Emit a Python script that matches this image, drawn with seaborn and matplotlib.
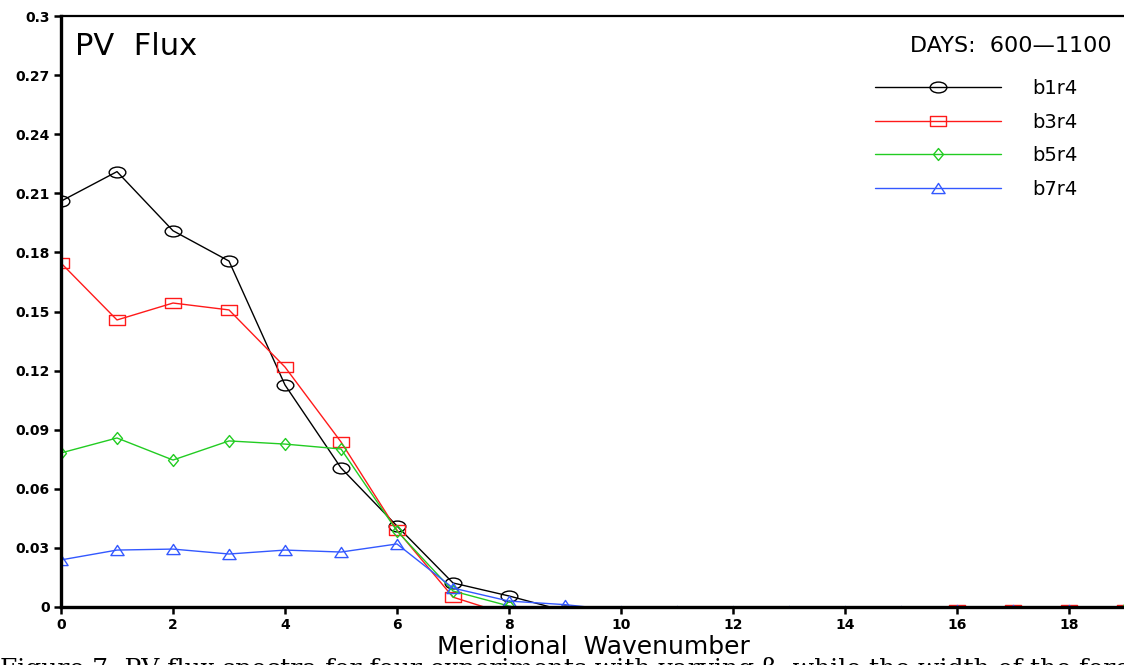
import matplotlib
matplotlib.use("Agg")
import numpy as np
import pandas as pd
import matplotlib.pyplot as plt
from matplotlib.path import Path
import seaborn as sns

# ---- data -------------------------------------------------------------
wavenumber = list(range(20))

b1r4 = [0.206, 0.221, 0.191, 0.1756, 0.1127, 0.0706, 0.0411, 0.0122, 0.0056,
        -0.002, -0.004, -0.004, -0.004, -0.004, -0.004, -0.004, -0.004,
        -0.004, -0.004, -0.004]
b3r4 = [0.1746, 0.1457, 0.1543, 0.1508, 0.1218, 0.0838, 0.0390, 0.0050,
        -0.004, -0.004, -0.004, -0.004, -0.004, -0.004, -0.004, -0.004,
        -0.0013, -0.0013, -0.0013, -0.0013]
b5r4 = [0.0782, 0.0858, 0.0746, 0.0843, 0.0827, 0.0802, 0.0386, 0.0081,
        0.0005, -0.004, -0.004, -0.004, -0.004, -0.004, -0.004, -0.004,
        -0.004, -0.004, -0.004, -0.001]
b7r4 = [0.0239, 0.0289, 0.0294, 0.0269, 0.0289, 0.0279, 0.0320, 0.0096,
        0.0030, 0.0012, -0.0018, -0.0018, -0.0018, -0.0018, -0.0018, -0.0018,
        -0.0015, -0.0015, -0.0015, -0.004]

series_names = ["b1r4", "b3r4", "b5r4", "b7r4"]
series_values = [b1r4, b3r4, b5r4, b7r4]
series_colors = ["#000000", "#ff1a1a", "#22cc22", "#3358ff"]

y_ticks = [0, 0.03, 0.06, 0.09, 0.12, 0.15, 0.18, 0.21, 0.24, 0.27, 0.3]
y_tick_labels = ["0", "0.03", "0.06", "0.09", "0.12", "0.15", "0.18",
                 "0.21", "0.24", "0.27", "0.3"]
x_ticks = [0, 2, 4, 6, 8, 10, 12, 14, 16, 18]

title_text = "PV  Flux"
period_text = "DAYS:  600\u20141100"
x_label = "Meridional  Wavenumber"
caption = ("Figure 7: PV flux spectra for four experiments with varying \u03b2, "
           "while the width of the forcing is held")

# ---- hollow, horizontally stretched markers ---------------------------
def closed(verts):
    codes = [Path.MOVETO] + [Path.LINETO] * (len(verts) - 2) + [Path.CLOSEPOLY]
    return Path(verts, codes)

circ = Path.unit_circle()
ellipse = Path(circ.vertices * np.array([1.0, 0.65]), circ.codes)
rect = closed([(-1, -0.65), (1, -0.65), (1, 0.65), (-1, 0.65), (-1, -0.65)])
diamond = closed([(0, 1), (0.83, 0), (0, -1), (-0.83, 0), (0, 1)])
triangle = closed([(0, 0.77), (1, -0.77), (-1, -0.77), (0, 0.77)])

series_markers = [ellipse, rect, diamond, triangle]
marker_sizes = [12.0, 12.0, 8.6, 9.5]

# ---- figure -----------------------------------------------------------
sns.set_style("ticks")
plt.rcParams["font.family"] = ["DejaVu Sans"]
for key in ("text.color", "axes.labelcolor", "xtick.color", "ytick.color",
            "axes.edgecolor"):
    plt.rcParams[key] = "black"

W, H = 1124, 665
fig = plt.figure(figsize=(W / 100, H / 100), dpi=100)
ax = fig.add_axes([61 / W, 1 - 607 / H, (1125 - 61) / W, (607 - 16) / H])

long = pd.DataFrame({
    "wavenumber": np.tile(wavenumber, len(series_names)),
    "flux": np.concatenate(series_values),
    "run": np.repeat(series_names, len(wavenumber)),
})

for name, color, mk, ms in zip(series_names, series_colors,
                               series_markers, marker_sizes):
    sub = long[long["run"] == name]
    sns.lineplot(data=sub, x="wavenumber", y="flux", ax=ax, color=color,
                 marker=mk, markersize=ms, mfc="none", mec=color, mew=1.0,
                 lw=1.0, label=name, errorbar=None)

ax.set_xlim(0, 19)
ax.set_ylim(0, 0.3)
ax.set_yticks(y_ticks)
ax.set_yticklabels(y_tick_labels)
ax.set_xticks(x_ticks)
ax.set_xticklabels([str(t) for t in x_ticks])
ax.tick_params(direction="out", length=5, width=1.8, pad=3,
               labelsize=10, color="black", labelcolor="black")
for lab in ax.get_xticklabels() + ax.get_yticklabels():
    lab.set_fontweight("bold")

ax.spines["right"].set_visible(False)
ax.spines["left"].set_linewidth(2.4)
ax.spines["bottom"].set_linewidth(2.4)
ax.spines["top"].set_linewidth(1.6)

ax.set_xlabel(x_label, fontsize=18, labelpad=2)
ax.set_ylabel("")

# labels inside the plot area
fig.text(75 / W, 1 - 55 / H, title_text, fontsize=22, ha="left",
         va="baseline")
fig.text(1112 / W, 1 - 52 / H, period_text, fontsize=16, ha="right",
         va="baseline")

handles, labels = ax.get_legend_handles_labels()
ax.legend(handles, labels, loc="upper left",
          bbox_to_anchor=(875 / W, 1 - 79 / H), bbox_transform=fig.transFigure,
          frameon=False, numpoints=1, handlelength=6.5, handletextpad=1.6,
          labelspacing=0.75, borderpad=0, borderaxespad=0, fontsize=14)

# figure caption running off the bottom edge of the page
fig.text(0.0, 1 - 657 / H, caption, fontsize=18, family="DejaVu Serif",
         ha="left", va="top")

fig.savefig("out.png", dpi=100)
